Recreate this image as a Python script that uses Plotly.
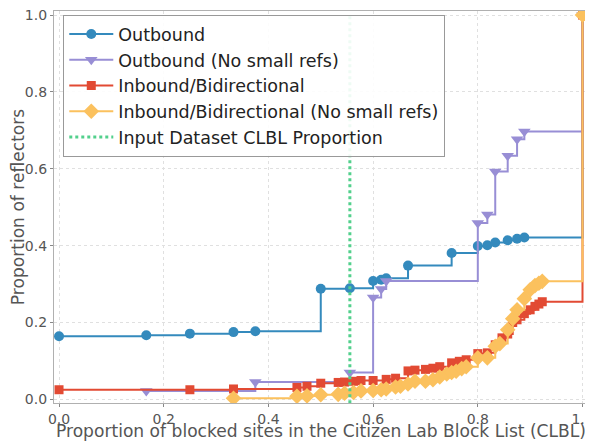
import plotly.graph_objects as go

# ---- data ----
out_x = [0.0, 0.1667, 0.25, 0.3333, 0.375, 0.5, 0.5556, 0.6, 0.6154, 0.625, 0.6667,
         0.75, 0.8, 0.8182, 0.8333, 0.8571, 0.875, 0.8889, 1.0]
out_y = [0.164, 0.167, 0.171, 0.175, 0.177, 0.288, 0.289, 0.308, 0.311, 0.315, 0.348,
         0.381, 0.399, 0.401, 0.408, 0.414, 0.418, 0.421, 1.0]

outns_x = [0.1667, 0.375, 0.5556, 0.6, 0.6154, 0.625, 0.8, 0.8182, 0.8333, 0.8571,
           0.875, 0.8889, 1.0]
outns_y = [0.022, 0.045, 0.070, 0.265, 0.287, 0.308, 0.459, 0.481, 0.593, 0.634,
           0.677, 0.697, 1.0]

in_x = [0.0, 0.25, 0.3333, 0.4545, 0.4737, 0.5, 0.5333, 0.5455, 0.5625, 0.5769, 0.6,
        0.625, 0.6429, 0.6667, 0.68, 0.7, 0.7143, 0.7273, 0.75, 0.7647, 0.7778, 0.8,
        0.8182, 0.8333, 0.8462, 0.8571, 0.8667, 0.875, 0.8889, 0.9, 0.9091, 0.9167,
        0.9231, 1.0]
in_y = [0.025, 0.025, 0.027, 0.031, 0.034, 0.042, 0.044, 0.045, 0.047, 0.049, 0.049,
        0.052, 0.055, 0.074, 0.076, 0.078, 0.081, 0.085, 0.095, 0.099, 0.103, 0.119,
        0.121, 0.142, 0.160, 0.170, 0.200, 0.207, 0.223, 0.233, 0.242, 0.248,
        0.254, 1.0]

inns_x = [0.3333, 0.4545, 0.4737, 0.5, 0.5333, 0.5455, 0.5625, 0.5769, 0.6, 0.6154,
          0.625, 0.6429, 0.6522, 0.6667, 0.68, 0.7, 0.7143, 0.7273, 0.7407, 0.75,
          0.7586, 0.7692, 0.7778, 0.8, 0.8182, 0.8333, 0.8421, 0.8571, 0.8667, 0.875,
          0.8889, 0.9, 0.9091, 0.9167, 0.9231, 1.0]
inns_y = [0.003, 0.008, 0.009, 0.012, 0.013, 0.016, 0.018, 0.022, 0.023, 0.025,
          0.027, 0.032, 0.034, 0.040, 0.047, 0.047, 0.051, 0.058, 0.066, 0.070,
          0.073, 0.080, 0.085, 0.108, 0.108, 0.138, 0.145, 0.181, 0.210, 0.233,
          0.262, 0.285, 0.296, 0.302, 0.307, 1.0]

clbl_x = [0.5556, 0.5556]
clbl_y = [-0.01, 1.0]

x_ticks = [0.0, 0.2, 0.4, 0.6, 0.8, 1.0]
y_ticks = [0.0, 0.2, 0.4, 0.6, 0.8, 1.0]

FONT = "DejaVu Sans"

fig = go.Figure()

def step(x, y, name, color, symbol, size):
    fig.add_trace(go.Scatter(
        x=x, y=y, name=name, mode="lines+markers", line_shape="hv",
        line=dict(color=color, width=2),
        marker=dict(color=color, symbol=symbol, size=size, line=dict(width=0)),
    ))

step(out_x, out_y, "Outbound", "#348ABD", "circle", 10)
step(outns_x, outns_y, "Outbound (No small refs)", "#988ED5", "triangle-down", 11)
step(in_x, in_y, "Inbound/Bidirectional", "#E24A33", "square", 9)
step(inns_x, inns_y, "Inbound/Bidirectional (No small refs)", "#FBC15E", "diamond", 12)

fig.add_trace(go.Scatter(
    x=clbl_x, y=clbl_y, name="Input Dataset CLBL Proportion", mode="lines",
    line=dict(color="#52D08C", width=3, dash="dot"),
))

axis_common = dict(
    automargin=False,
    showline=True, mirror=True, linecolor="#B0B0B0", linewidth=1.2,
    showgrid=True, gridcolor="#E0E0E0", griddash="dot", gridwidth=1,
    zeroline=False, ticks="outside", ticklen=3, tickcolor="#888888",
    tickfont=dict(family=FONT, size=14, color="#555555"),
    tickformat=".1f", ticklabeloverflow="allow",
)

fig.update_xaxes(
    range=[-0.0096, 1.0105], tickvals=x_ticks,
    title=dict(text="Proportion of blocked sites in the Citizen Lab Block List (CLBL)",
               font=dict(family=FONT, size=17.1, color="#555555"), standoff=2),
    **axis_common,
)
fig.update_yaxes(
    range=[-0.0095, 1.0105], tickvals=y_ticks,
    title=dict(text="Proportion of reflectors",
               font=dict(family=FONT, size=17.1, color="#555555"), standoff=4),
    **axis_common,
)

# page body has an 8px margin: figure is sized/offset to compensate
fig.update_layout(
    template="none",
    width=585, height=433,
    margin=dict(l=46, r=5, t=3, b=38, autoexpand=False),
    paper_bgcolor="white", plot_bgcolor="white",
    font=dict(family=FONT),
    showlegend=True,
    legend=dict(
        x=0.017, y=0.99, xanchor="left", yanchor="top",
        bgcolor="rgba(255,255,255,0.9)", bordercolor="#999999", borderwidth=1.2,
        font=dict(family=FONT, size=17.5, color="#222222"),
        itemwidth=44, tracegroupgap=0,
    ),
)

fig.write_html("out.html")
